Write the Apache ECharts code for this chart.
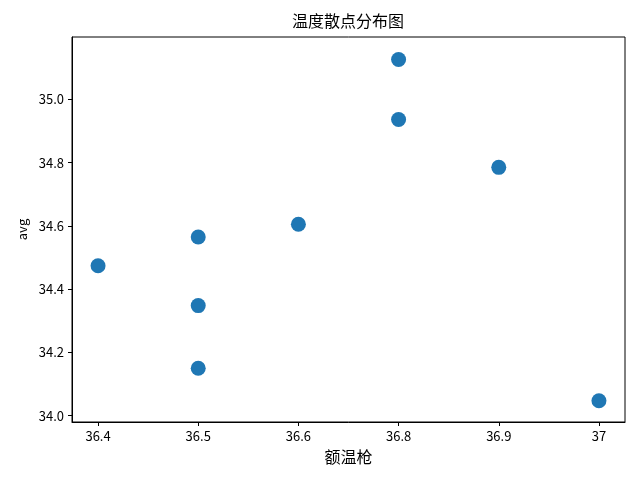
<!DOCTYPE html>
<html>
<head>
<meta charset="utf-8">
<script src="https://cdn.jsdelivr.net/npm/echarts@6/dist/echarts.min.js"></script>
<style>
  html, body { margin: 0; padding: 0; background: #fff; }
  #main { width: 640px; height: 480px; }
</style>
</head>
<body>
<div id="main"></div>
<script>
// x 轴类别（额温枪读数）
var categories = ['36.4', '36.5', '36.6', '36.8', '36.9', '37'];
// 每个点所在的类别
var pointX = ['36.4', '36.5', '36.5', '36.5', '36.6', '36.8', '36.8', '36.9', '37'];
// 每个点的 avg 值
var pointY = [34.474, 34.565, 34.348, 34.150, 34.605, 35.126, 34.936, 34.785, 34.047];
// y 轴刻度
var yTicks = [34.0, 34.2, 34.4, 34.6, 34.8, 35.0];

var font = "'Noto Sans CJK SC', 'DejaVu Sans', sans-serif";

var myChart = echarts.init(document.getElementById('main'));

var data = pointX.map(function (c, i) {
    return [categories.indexOf(c), pointY[i]];
});

var options = {
    animation: false,
    title: {
        text: '温度散点分布图',
        left: 348,
        top: 13,
        padding: 0,
        textAlign: 'center',
        textStyle: { fontFamily: font, fontSize: 16, fontWeight: 'normal', color: '#000' }
    },
    grid: {
        left: 72,
        right: 15,
        top: 37,
        bottom: 58,
        show: true,
        borderColor: '#000',
        borderWidth: 1,
        containLabel: false
    },
    xAxis: {
        type: 'value',
        min: -0.26,
        max: 5.26,
        name: '额温枪',
        nameLocation: 'middle',
        nameGap: 27,
        nameMoveOverlap: false,
        nameTextStyle: { fontFamily: font, fontSize: 16, color: '#000' },
        splitLine: { show: false },
        axisLine: { show: true, onZero: false, lineStyle: { color: '#000', width: 1 } },
        axisTick: {
            show: true, length: 4, inside: false,
            customValues: categories.map(function (c, i) { return i; }),
            lineStyle: { color: '#000' }
        },
        axisLabel: {
            customValues: categories.map(function (c, i) { return i; }),
            formatter: function (v) { return categories[Math.round(v)]; },
            margin: 8,
            fontFamily: font, fontSize: 13, color: '#000'
        }
    },
    yAxis: {
        type: 'value',
        min: 33.98,
        max: 35.197,
        name: 'avg',
        nameLocation: 'middle',
        nameGap: 43,
        nameRotate: 90,
        nameMoveOverlap: false,
        nameTextStyle: { fontFamily: font, fontSize: 13, color: '#000' },
        splitLine: { show: false },
        axisLine: { show: true, onZero: false, lineStyle: { color: '#000', width: 1 } },
        axisTick: {
            show: true, length: 4, inside: false,
            customValues: yTicks,
            lineStyle: { color: '#000' }
        },
        axisLabel: {
            customValues: yTicks,
            formatter: function (v) { return v.toFixed(1); },
            margin: 8,
            fontFamily: font, fontSize: 13, color: '#000'
        }
    },
    series: [{
        type: 'scatter',
        data: data,
        symbolSize: 15,
        itemStyle: { color: '#1f77b4', opacity: 1 }
    }]
};

myChart.setOption(options, true);
</script>
</body>
</html>
